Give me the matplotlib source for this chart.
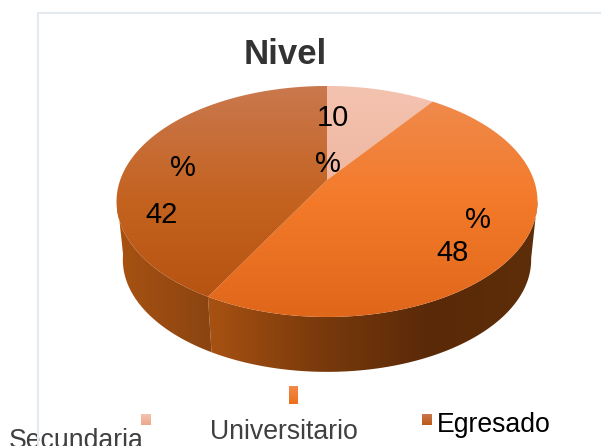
import numpy as np
import matplotlib
matplotlib.use('Agg')
import matplotlib.pyplot as plt
from matplotlib.colors import LinearSegmentedColormap
from matplotlib.patches import Polygon

plt.rcParams['font.family'] = ['Liberation Sans', 'DejaVu Sans']

categories = ['Secundaria', 'Universitario', 'Egresado']
values = [10, 48, 42]
top_colors = [['#F4C3B0', '#E8A78B'],
              ['#EE8C50', '#F47A2A', '#E0661A'],
              ['#CA784E', '#C4621F', '#B4500F']]
side_colors = [['#A85212', '#A85212'],
               ['#A85212', '#7A3A0C', '#5A2A08', '#5E2E0A'],
               ['#A85212', '#8A4410']]
legend_colors = [['#F4C3B0', '#EBA88C'],
                 ['#F28A4A', '#EE6F1C'],
                 ['#CA784E', '#BC5A16']]


# disk coordinates to pixels, the pie is drawn in perspective
def project(angle, scale=1.0, shift=0.0):
    u = np.sin(np.radians(angle))
    v = np.cos(np.radians(angle))
    d = 1 + 0.186 * v
    return 327 + scale * 206.8 * u / d, 180 + shift - scale * 111.5 * v / d


def gradient(ax, colors, box, poly, horizontal=False):
    cmap = LinearSegmentedColormap.from_list('g', colors)
    g = np.linspace(0, 1, 256)
    g = g.reshape(1, -1) if horizontal else g.reshape(-1, 1)
    im = ax.imshow(g, cmap=cmap, extent=box, aspect='auto', zorder=2, interpolation='bilinear')
    patch = Polygon(poly, closed=True, transform=ax.transData, fc='none', ec='none')
    ax.add_patch(patch)
    im.set_clip_path(patch)


fig = plt.figure(figsize=(6.01, 4.46), dpi=100)
ax = fig.add_axes([0, 0, 1, 1])

# side of the pie, only the front part shows
edges = np.cumsum([0] + values) * 3.6
for i, (a0, a1) in enumerate([(100, edges[2]), (edges[2], 262)]):
    ang = np.linspace(a0, a1, 120)
    xt, yt = project(ang)
    xb, yb = project(ang, 0.97, 59)
    poly = np.column_stack([np.r_[xt, xb[::-1]], np.r_[yt, yb[::-1]]])
    gradient(ax, side_colors[i + 1], (poly[:, 0].min(), poly[:, 0].max(), 380, 170), poly, True)

# top of the pie
for i in range(len(values)):
    ang = np.linspace(edges[i], edges[i + 1], 200)
    xt, yt = project(ang)
    poly = np.column_stack([np.r_[327, xt], np.r_[180, yt]])
    gradient(ax, top_colors[i], (110, 540, 317, 86), poly)

# chart frame, it runs over the legend text at the bottom
ax.plot([38, 38, 601], [446, 13, 13], color='#E4E8EF', lw=1.5, zorder=5)

ax.text(285, 54, 'Nivel', fontsize=25, fontweight='bold', color='#333333', ha='center', va='center')

# labels wrap in the original, number and sign sit apart
label_pos = [((333, 118), (328, 164)), ((453, 253), (478, 220)), ((162, 215), (183, 168))]
for v, (pn, pp) in zip(values, label_pos):
    ax.text(pn[0], pn[1], str(v), fontsize=21, color='black', ha='center', va='center', zorder=3)
    ax.text(pp[0], pp[1], '%', fontsize=21, color='black', ha='center', va='center', zorder=3)

# legend
leg_text = [(9, 448, '#404040'), (210, 439, '#404040'), (437, 432, 'black')]
leg_box = [(141, 414, 10, 11), (289, 386, 9, 18), (422, 414, 10, 11)]
for name, t, b, c in zip(categories, leg_text, leg_box, legend_colors):
    ax.text(t[0], t[1], name, fontsize=19.2, color=t[2], ha='left', va='baseline')
    x0, y0, w, h = b
    corners = [(x0, y0), (x0 + w, y0), (x0 + w, y0 + h), (x0, y0 + h)]
    gradient(ax, c, (x0, x0 + w, y0 + h, y0), corners)

ax.set_xlim(0, 601)
ax.set_ylim(446, 0)
ax.axis('off')

fig.savefig('out.png', dpi=100)
